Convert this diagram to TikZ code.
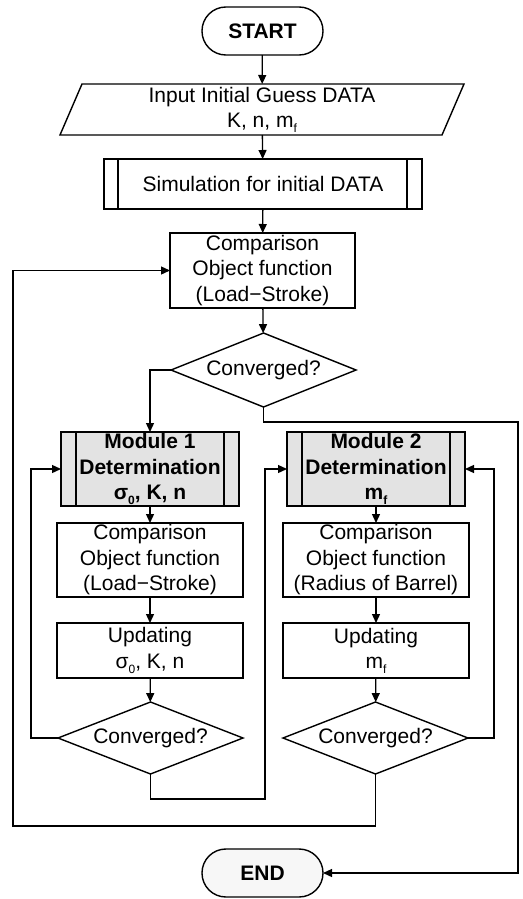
\documentclass[tikz,border=0pt]{standalone}
\usepackage{fontspec}
\setmainfont{Liberation Sans}
\usetikzlibrary{shapes.geometric,arrows.meta}
\newcommand{\mysub}[1]{\raisebox{-0.22em}{\fontsize{12}{12}\selectfont #1}}
\begin{document}
\begin{tikzpicture}[x=1pt,y=-1pt,
  every node/.style={font=\fontsize{21}{25.5}\selectfont, align=center, inner sep=0pt, outer sep=0pt},
  arr/.style={line width=1.3pt, -{Triangle[length=9pt,width=8pt]}},
  term/.style={draw, line width=1.4pt, rounded corners=23.9pt, minimum width=121pt, minimum height=48pt, font=\fontsize{21}{25.5}\selectfont\bfseries},
  boxx/.style={draw, line width=1.4pt, minimum width=186pt},
  procbox/.style={draw, line width=1.4pt},
  modbox/.style={draw, line width=1.4pt, fill=gray!22, minimum width=178pt, minimum height=74pt, font=\fontsize{21}{25.5}\selectfont\bfseries},
  dec/.style={draw, line width=1.4pt, diamond, minimum width=185pt, aspect=2.5}
]
\useasboundingbox (0,0) rectangle (522,899);

\node[term] (start) at (262.5,31) {START};
\node[minimum width=382pt, minimum height=51pt] (inp) at (262,109.5) {Input Initial Guess DATA\\K, n, m\mysub{f}};
\draw[line width=1.4pt] ([xshift=11pt]inp.north west) -- ([xshift=11pt]inp.north east) -- ([xshift=-11pt]inp.south east) -- ([xshift=-11pt]inp.south west) -- cycle;
\node[procbox, minimum width=318pt, minimum height=50pt] (sim) at (263,184) {Simulation for initial DATA};
\draw[line width=1.3pt] ([xshift=14pt]sim.north west) -- ([xshift=14pt]sim.south west);
\draw[line width=1.3pt] ([xshift=-15pt]sim.north east) -- ([xshift=-15pt]sim.south east);
\node[boxx, minimum width=185pt, minimum height=75pt] (cmp) at (262.5,270.5) {Comparison\\Object function\\(Load−Stroke)};
\node[dec, minimum height=74pt] (d0) at (263.5,370) {Converged?};

\node[modbox] (m1) at (150,469) {Module 1\\Determination\\σ\mysub{0}, K, n};
\draw[line width=1.3pt] ([xshift=15pt]m1.north west) -- ([xshift=15pt]m1.south west);
\draw[line width=1.3pt] ([xshift=-15pt]m1.north east) -- ([xshift=-15pt]m1.south east);
\node[modbox] (m2) at (376,469) {Module 2\\Determination\\m\mysub{f}};
\draw[line width=1.3pt] ([xshift=15pt]m2.north west) -- ([xshift=15pt]m2.south west);
\draw[line width=1.3pt] ([xshift=-15pt]m2.north east) -- ([xshift=-15pt]m2.south east);

\node[boxx, minimum height=74pt] (cl) at (150,560) {Comparison\\Object function\\(Load−Stroke)};
\node[boxx, minimum height=74pt] (cr) at (376,560) {Comparison\\Object function\\(Radius of Barrel)};
\node[boxx, minimum height=55pt] (ul) at (150,650.5) {Updating\\σ\mysub{0}, K, n};
\node[boxx, minimum height=55pt] (ur) at (376,650.5) {Updating\\m\mysub{f}};
\node[dec, minimum height=72pt] (dl) at (150.5,738) {Converged?};
\node[dec, minimum height=72pt] (dr) at (375.5,738) {Converged?};

\node[term, fill=gray!6] (end) at (262.5,873) {END};

\coordinate (rr) at (518,422);
\coordinate (ll) at (31,469);
\coordinate (lb) at (265,799);
\coordinate (rl) at (494,469);
\coordinate (ob) at (13,826);

\draw[arr] (start) -- (inp);
\draw[arr] (inp) -- (sim);
\draw[arr] (sim) -- (cmp);
\draw[arr] (cmp) -- (d0);
\draw[arr] (d0.west) -| (m1.north);
\draw[arr] (d0.south) |- (rr) |- (end.east);
\draw[arr] (m1) -- (cl);
\draw[arr] (cl) -- (ul);
\draw[arr] (ul) -- (dl);
\draw[arr] (m2) -- (cr);
\draw[arr] (cr) -- (ur);
\draw[arr] (ur) -- (dr);
\draw[arr] (dl.west) -| (ll) -- (m1.west);
\draw[arr] (dl.south) |- (lb) |- (m2.west);
\draw[arr] (dr.east) -| (rl) -- (m2.east);
\draw[arr] (dr.south) |- (ob) |- (cmp.west);
\end{tikzpicture}
\end{document}
